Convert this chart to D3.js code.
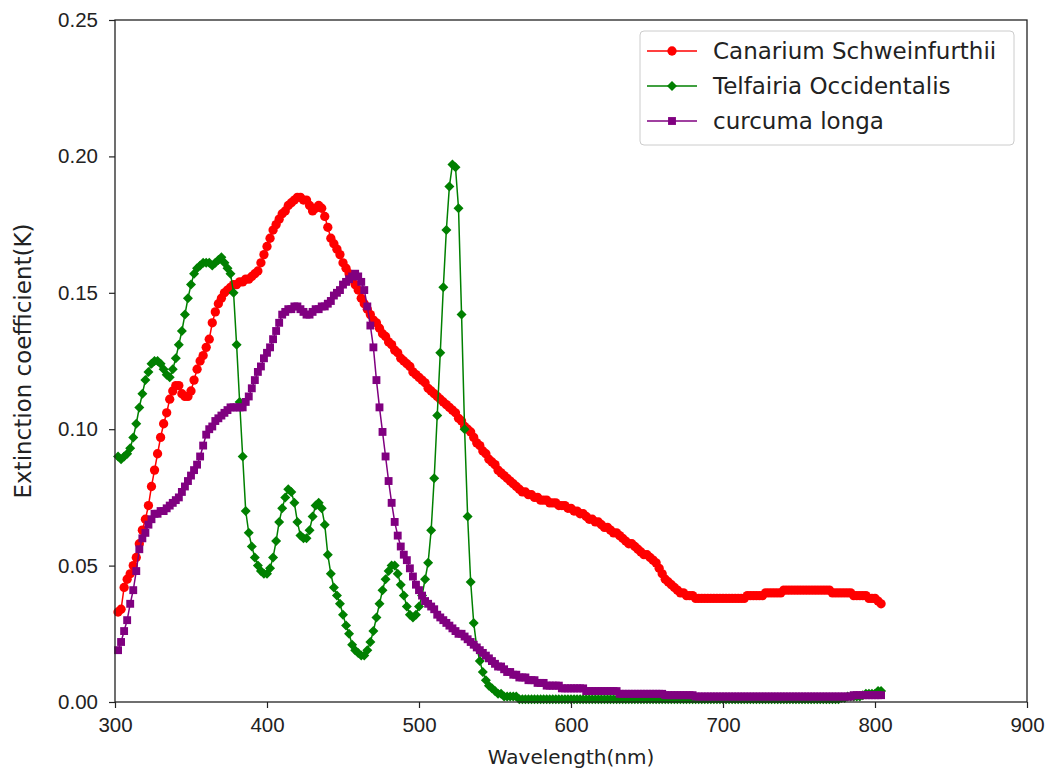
<!DOCTYPE html>
<html>
<head>
<meta charset="utf-8">
<script src="https://cdn.jsdelivr.net/npm/d3@7"></script>
<style>
  html, body { margin: 0; padding: 0; background: #fff; }
  svg { display: block; font-family: "DejaVu Sans", sans-serif; }
</style>
</head>
<body>
<svg id="chart" width="1052" height="776"></svg>
<script>
// Sampling grid (nm), 2 nm steps
const wavelength = d3.range(302, 805, 2);

const seriesNames = ["Canarium Schweinfurthii", "Telfairia Occidentalis", "curcuma longa"];

const canarium = [
  0.033,0.034,0.042,0.045,0.047,0.050,0.053,0.058,0.063,0.067,
  0.072,0.079,0.085,0.091,0.097,0.102,0.106,0.111,0.114,0.116,
  0.116,0.113,0.112,0.112,0.114,0.118,0.122,0.125,0.127,0.130,
  0.133,0.139,0.143,0.146,0.148,0.150,0.151,0.152,0.153,0.153,
  0.154,0.154,0.155,0.155,0.156,0.157,0.158,0.161,0.164,0.167,
  0.170,0.173,0.175,0.177,0.179,0.180,0.182,0.183,0.184,0.185,
  0.185,0.184,0.184,0.182,0.180,0.181,0.182,0.181,0.178,0.174,
  0.170,0.168,0.166,0.164,0.161,0.159,0.157,0.155,0.153,0.151,
  0.148,0.146,0.144,0.142,0.140,0.139,0.137,0.135,0.134,0.132,
  0.131,0.129,0.128,0.126,0.125,0.124,0.123,0.121,0.120,0.119,
  0.118,0.117,0.115,0.114,0.113,0.112,0.111,0.110,0.109,0.108,
  0.107,0.106,0.104,0.103,0.101,0.100,0.099,0.097,0.095,0.094,
  0.092,0.091,0.089,0.088,0.087,0.085,0.084,0.083,0.082,0.081,
  0.080,0.079,0.078,0.077,0.077,0.076,0.076,0.075,0.075,0.074,
  0.074,0.074,0.073,0.073,0.073,0.072,0.072,0.072,0.071,0.071,
  0.070,0.070,0.069,0.069,0.068,0.067,0.067,0.066,0.066,0.065,
  0.064,0.064,0.063,0.062,0.062,0.061,0.060,0.059,0.058,0.058,
  0.057,0.056,0.055,0.054,0.054,0.053,0.052,0.051,0.049,0.047,
  0.045,0.044,0.043,0.042,0.041,0.040,0.040,0.039,0.039,0.039,
  0.038,0.038,0.038,0.038,0.038,0.038,0.038,0.038,0.038,0.038,
  0.038,0.038,0.038,0.038,0.038,0.038,0.038,0.039,0.039,0.039,
  0.039,0.039,0.039,0.040,0.040,0.040,0.040,0.040,0.040,0.041,
  0.041,0.041,0.041,0.041,0.041,0.041,0.041,0.041,0.041,0.041,
  0.041,0.041,0.041,0.041,0.041,0.040,0.040,0.040,0.040,0.040,
  0.040,0.040,0.039,0.039,0.039,0.039,0.039,0.038,0.038,0.038,
  0.037,0.036
];

const telfairia = [
  0.090,0.089,0.090,0.091,0.093,0.097,0.102,0.108,0.113,0.118,
  0.121,0.124,0.125,0.125,0.124,0.122,0.120,0.119,0.122,0.126,
  0.131,0.136,0.142,0.148,0.153,0.157,0.159,0.160,0.161,0.161,
  0.161,0.160,0.161,0.162,0.163,0.161,0.159,0.157,0.150,0.131,
  0.110,0.090,0.070,0.062,0.057,0.053,0.050,0.048,0.047,0.047,
  0.049,0.053,0.059,0.066,0.071,0.075,0.078,0.077,0.073,0.066,
  0.061,0.060,0.060,0.063,0.068,0.072,0.073,0.071,0.065,0.054,
  0.047,0.042,0.039,0.036,0.032,0.028,0.025,0.021,0.019,0.018,
  0.017,0.017,0.019,0.022,0.026,0.031,0.036,0.041,0.045,0.048,
  0.050,0.050,0.047,0.043,0.039,0.035,0.032,0.031,0.032,0.035,
  0.039,0.045,0.051,0.063,0.082,0.105,0.128,0.152,0.173,0.189,
  0.197,0.196,0.181,0.142,0.100,0.068,0.044,0.029,0.020,0.015,
  0.011,0.008,0.006,0.005,0.004,0.003,0.003,0.002,0.002,0.002,
  0.002,0.002,0.001,0.001,0.001,0.001,0.001,0.001,0.001,0.001,
  0.001,0.001,0.001,0.001,0.001,0.001,0.001,0.001,0.001,0.001,
  0.001,0.001,0.001,0.001,0.001,0.001,0.001,0.001,0.001,0.001,
  0.001,0.001,0.001,0.001,0.001,0.001,0.001,0.001,0.001,0.001,
  0.001,0.001,0.001,0.001,0.001,0.001,0.001,0.001,0.001,0.001,
  0.001,0.001,0.001,0.001,0.001,0.001,0.001,0.001,0.001,0.001,
  0.001,0.001,0.001,0.001,0.001,0.001,0.001,0.001,0.001,0.001,
  0.001,0.001,0.001,0.001,0.001,0.001,0.001,0.001,0.001,0.001,
  0.001,0.001,0.001,0.001,0.001,0.001,0.001,0.001,0.001,0.001,
  0.001,0.001,0.001,0.001,0.001,0.001,0.001,0.001,0.001,0.001,
  0.001,0.001,0.001,0.001,0.001,0.001,0.001,0.001,0.0015,0.0015,
  0.002,0.002,0.002,0.002,0.002,0.0025,0.003,0.003,0.003,0.003,
  0.004,0.004
];

const curcuma = [
  0.019,0.022,0.026,0.030,0.036,0.041,0.048,0.056,0.060,0.062,
  0.065,0.067,0.069,0.069,0.070,0.070,0.071,0.072,0.073,0.074,
  0.075,0.077,0.079,0.081,0.083,0.085,0.087,0.090,0.094,0.098,
  0.100,0.101,0.103,0.104,0.105,0.106,0.107,0.108,0.108,0.108,
  0.108,0.108,0.110,0.112,0.115,0.118,0.121,0.123,0.126,0.128,
  0.130,0.133,0.136,0.139,0.142,0.143,0.144,0.144,0.145,0.145,
  0.144,0.143,0.142,0.142,0.143,0.144,0.144,0.145,0.145,0.146,
  0.147,0.149,0.150,0.151,0.153,0.154,0.155,0.156,0.157,0.156,
  0.154,0.151,0.145,0.138,0.130,0.118,0.108,0.099,0.090,0.081,
  0.073,0.066,0.061,0.057,0.054,0.052,0.049,0.046,0.043,0.041,
  0.039,0.037,0.036,0.035,0.034,0.032,0.031,0.030,0.029,0.028,
  0.027,0.026,0.025,0.025,0.024,0.023,0.022,0.021,0.020,0.019,
  0.018,0.017,0.016,0.015,0.014,0.013,0.013,0.012,0.011,0.011,
  0.010,0.010,0.009,0.009,0.009,0.008,0.008,0.008,0.007,0.007,
  0.007,0.006,0.006,0.006,0.006,0.006,0.005,0.005,0.005,0.005,
  0.005,0.005,0.005,0.005,0.004,0.004,0.004,0.004,0.004,0.004,
  0.004,0.004,0.004,0.004,0.004,0.003,0.003,0.003,0.003,0.003,
  0.003,0.003,0.003,0.003,0.003,0.003,0.003,0.003,0.003,0.003,
  0.0025,0.0025,0.0025,0.0025,0.0025,0.0025,0.0025,0.0025,0.0025,0.0025,
  0.002,0.002,0.002,0.002,0.002,0.002,0.002,0.002,0.002,0.002,
  0.002,0.002,0.002,0.002,0.002,0.002,0.002,0.002,0.002,0.002,
  0.002,0.002,0.002,0.002,0.002,0.002,0.002,0.002,0.002,0.002,
  0.002,0.002,0.002,0.002,0.002,0.002,0.002,0.002,0.002,0.002,
  0.002,0.002,0.002,0.002,0.002,0.002,0.002,0.002,0.002,0.002,
  0.002,0.002,0.0025,0.0025,0.0025,0.0025,0.0025,0.0025,0.0025,0.0025,
  0.0025,0.0025
];

const xTicks = [300, 400, 500, 600, 700, 800, 900];
const yTicks = [0.00, 0.05, 0.10, 0.15, 0.20, 0.25];
const colors = ["#ff0000", "#008000", "#800080"];
const markerShapes = ["circle", "diamond", "square"];

const svg = d3.select("#chart");
const margin = { left: 115, right: 25, top: 20, bottom: 74 };
const W = 1052, H = 776;

const x = d3.scaleLinear().domain([300, 900]).range([margin.left, W - margin.right]);
const y = d3.scaleLinear().domain([0, 0.25]).range([H - margin.bottom, margin.top]);

const series = [canarium, telfairia, curcuma].map((vals, i) => ({
  name: seriesNames[i],
  color: colors[i],
  shape: markerShapes[i],
  points: wavelength.map((w, j) => ({ w, v: vals[j] })).filter(p => p.v !== undefined)
}));

function markerPath(shape) {
  if (shape === "circle") return d3.symbol(d3.symbolCircle, 68)();
  if (shape === "diamond") return d3.symbol(d3.symbolSquare, 50)();
  return d3.symbol(d3.symbolSquare, 62)();
}
function markerTransform(shape, px, py) {
  return shape === "diamond" ? `translate(${px},${py}) rotate(45)` : `translate(${px},${py})`;
}

// Series lines and markers
const line = d3.line().x(d => x(d.w)).y(d => y(d.v));
const plot = svg.append("g");
series.forEach(s => {
  const g = plot.append("g");
  g.append("path")
    .datum(s.points)
    .attr("fill", "none")
    .attr("stroke", s.color)
    .attr("stroke-width", 1.5)
    .attr("d", line);
  g.selectAll("path.mk")
    .data(s.points)
    .join("path")
    .attr("class", "mk")
    .attr("d", markerPath(s.shape))
    .attr("transform", d => markerTransform(s.shape, x(d.w), y(d.v)))
    .attr("fill", s.color);
});

// Axes
const axisColor = "#222";
const xAxis = svg.append("g")
  .attr("transform", `translate(0,${H - margin.bottom})`)
  .call(d3.axisBottom(x).tickValues(xTicks).tickFormat(d3.format("d")).tickSize(6).tickPadding(9));
const yAxis = svg.append("g")
  .attr("transform", `translate(${margin.left},0)`)
  .call(d3.axisLeft(y).tickValues(yTicks).tickFormat(d3.format(".2f")).tickSize(6).tickPadding(11));
[xAxis, yAxis].forEach(a => {
  a.select(".domain").remove();
  a.selectAll("line").attr("stroke", axisColor).attr("stroke-width", 1.2);
  a.selectAll("text").attr("fill", "#222").style("font-size", "20.5px");
});

// Frame
svg.append("rect")
  .attr("x", margin.left).attr("y", margin.top)
  .attr("width", W - margin.left - margin.right)
  .attr("height", H - margin.top - margin.bottom)
  .attr("fill", "none").attr("stroke", axisColor).attr("stroke-width", 1.3);

// Axis titles
svg.append("text")
  .attr("x", (margin.left + W - margin.right) / 2)
  .attr("y", 757).attr("dy", "0.35em")
  .attr("text-anchor", "middle")
  .style("font-size", "20px").attr("fill", "#222")
  .text("Wavelength(nm)");
svg.append("text")
  .attr("transform", `translate(23,${(margin.top + H - margin.bottom) / 2}) rotate(-90)`)
  .attr("dy", "0.35em")
  .attr("text-anchor", "middle")
  .style("font-size", "23px").attr("fill", "#222")
  .text("Extinction coefficient(K)");

// Legend
const lg = svg.append("g");
lg.append("rect")
  .attr("x", 640).attr("y", 31).attr("width", 374).attr("height", 114)
  .attr("rx", 4).attr("fill", "#fff").attr("fill-opacity", 0.85)
  .attr("stroke", "#ccc").attr("stroke-width", 1);
series.forEach((s, i) => {
  const cy = 51 + i * 35;
  lg.append("line")
    .attr("x1", 647).attr("x2", 697).attr("y1", cy).attr("y2", cy)
    .attr("stroke", s.color).attr("stroke-width", 1.5);
  lg.append("path")
    .attr("d", markerPath(s.shape))
    .attr("transform", markerTransform(s.shape, 672, cy))
    .attr("fill", s.color);
  lg.append("text")
    .attr("x", 713).attr("y", cy).attr("dy", "0.35em")
    .style("font-size", "23px").attr("fill", "#222")
    .text(s.name);
});
</script>
</body>
</html>
